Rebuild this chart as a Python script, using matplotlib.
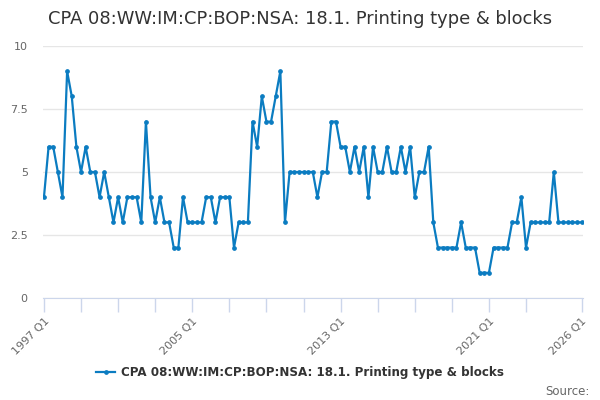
import matplotlib
matplotlib.use('Agg')
import matplotlib.pyplot as plt

# quarterly values, 1997 Q1 .. 2026 Q1
values = [4, 6, 6, 5, 4, 9, 8, 6, 5, 6, 5, 5, 4, 5, 4, 3, 4, 3, 4, 4, 4, 3, 7, 4, 3, 4, 3, 3, 2, 2, 4, 3,
          3, 3, 3, 4, 4, 3, 4, 4, 4, 2, 3, 3, 3, 7, 6, 8, 7, 7, 8, 9, 3, 5, 5, 5, 5, 5, 5, 4, 5, 5, 7, 7,
          6, 6, 5, 6, 5, 6, 4, 6, 5, 5, 6, 5, 5, 6, 5, 6, 4, 5, 5, 6, 3, 2, 2, 2, 2, 2, 3, 2, 2, 2, 1, 1,
          1, 2, 2, 2, 2, 3, 3, 4, 2, 3, 3, 3, 3, 3, 5, 3, 3, 3, 3, 3, 3]
start_year = 1997
quarters = [f"{start_year + i // 4} Q{i % 4 + 1}" for i in range(len(values))]
label_years = [1997, 2005, 2013, 2021, 2026]
series_name = "CPA 08:WW:IM:CP:BOP:NSA: 18.1. Printing type & blocks"

line_color = '#0b7cc1'
x = list(range(len(values)))

fig = plt.figure(figsize=(6, 4), dpi=100)
ax = fig.add_axes([0.0717, 0.255, 0.9, 0.63])

ax.plot(x, values, color=line_color, linewidth=1.6, marker='o', markersize=2.4,
        label=series_name, zorder=3)

ax.set_xlim(-0.2, len(values) - 0.7)
ax.set_ylim(0, 10)
ax.set_yticks([0, 2.5, 5, 7.5, 10])
ax.set_yticklabels(['0', '2.5', '5', '7.5', '10'])
ax.grid(axis='y', color='#e6e6e6', linewidth=1)
ax.set_axisbelow(True)

# ticks every 2 years, labels every 8 years plus the last quarter
tick_pos = [i for i in range(0, len(values), 8) if i < len(values) - 5] + [len(values) - 1]
tick_lab = []
for i in tick_pos:
    yr = start_year + i // 4
    tick_lab.append(quarters[i] if (yr in label_years and i % 4 == 0) else '')
ax.set_xticks(tick_pos)
ax.set_xticklabels(tick_lab, rotation=45, ha='right', rotation_mode='anchor')

for s in ['top', 'right', 'left']:
    ax.spines[s].set_visible(False)
ax.spines['bottom'].set_color('#ccd6eb')
ax.tick_params(axis='x', colors='#ccd6eb', length=10, width=1, labelcolor='#666666',
               labelsize=8, pad=3)
ax.tick_params(axis='y', length=0, labelcolor='#666666', labelsize=8, pad=11)

fig.suptitle(series_name, x=0.5, y=0.975, fontsize=12.9, color='#333333')

leg = fig.legend(loc='center', bbox_to_anchor=(0.5, 0.068), frameon=False,
                 prop={'weight': 'bold', 'size': 8.6}, handlelength=1.6, handletextpad=0.5)
for t in leg.get_texts():
    t.set_color('#333333')

fig.text(0.982, 0.022, 'Source:', ha='right', va='center', fontsize=8.5, color='#666666')

fig.savefig('out.png', dpi=100)
